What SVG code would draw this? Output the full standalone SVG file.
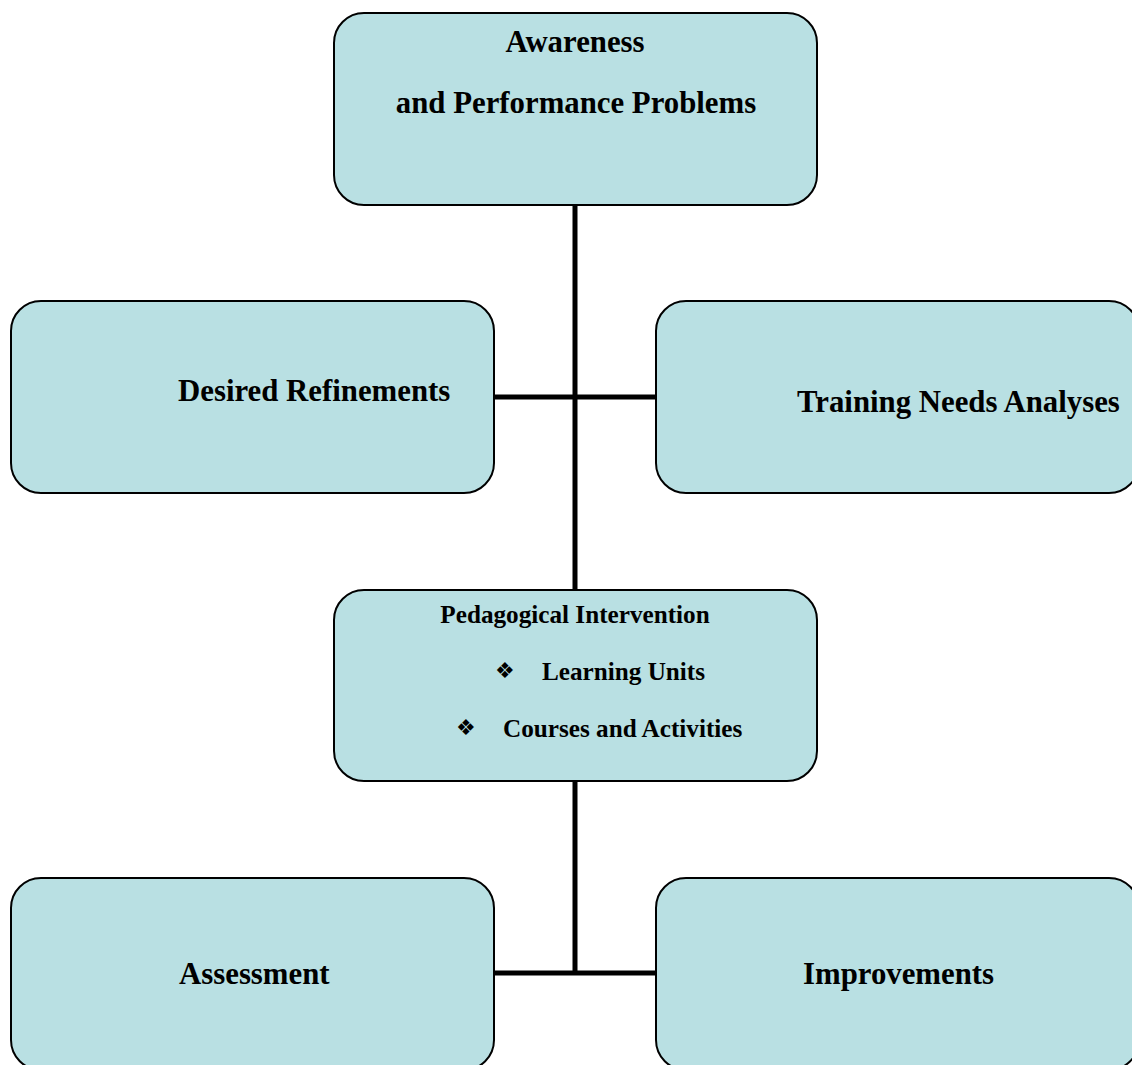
<svg xmlns="http://www.w3.org/2000/svg" width="1132" height="1065" viewBox="0 0 1132 1065">
  <style>
    .box { fill: #b9e0e3; stroke: #000; stroke-width: 2; }
    .lbl { font-family: "Liberation Serif", "Times New Roman", serif; font-weight: bold; fill: #000; }
    .big { font-size: 30.8px; }
    .small { font-size: 25.2px; }
    .bullet { font-family: "DejaVu Sans", sans-serif; font-size: 22px; fill: #000; }
    .wire { stroke: #000; stroke-width: 5; fill: none; }
  </style>
  <rect width="1132" height="1065" fill="#fff"/>

  <!-- connectors -->
  <g id="connectors">
    <line class="wire" x1="575" y1="205" x2="575" y2="590"/>
    <line class="wire" x1="494" y1="397" x2="656" y2="397"/>
    <line class="wire" x1="575" y1="781" x2="575" y2="973"/>
    <line class="wire" x1="494" y1="973" x2="656" y2="973"/>
  </g>

  <g id="awareness">
    <rect class="box" x="334" y="13" width="483" height="192" rx="30"/>
    <text class="lbl big" x="575" y="52" text-anchor="middle">Awareness</text>
    <text class="lbl big" x="576" y="113" text-anchor="middle">and Performance Problems</text>
  </g>

  <g id="desired-refinements">
    <rect class="box" x="11" y="301" width="483" height="192" rx="30"/>
    <text class="lbl big" x="178" y="401">Desired Refinements</text>
  </g>

  <g id="training-needs">
    <rect class="box" x="656" y="301" width="483" height="192" rx="30"/>
    <text class="lbl big" x="797" y="412">Training Needs Analyses</text>
  </g>

  <g id="pedagogical-intervention">
    <rect class="box" x="334" y="590" width="483" height="191" rx="30"/>
    <text class="lbl small" x="575" y="623" text-anchor="middle">Pedagogical Intervention</text>
    <text class="bullet" x="495" y="678">❖</text>
    <text class="lbl small" x="542" y="680">Learning Units</text>
    <text class="bullet" x="456" y="735">❖</text>
    <text class="lbl small" x="503" y="737">Courses and Activities</text>
  </g>

  <g id="assessment">
    <rect class="box" x="11" y="878" width="483" height="192" rx="30"/>
    <text class="lbl big" x="179" y="984">Assessment</text>
  </g>

  <g id="improvements">
    <rect class="box" x="656" y="878" width="483" height="192" rx="30"/>
    <text class="lbl big" x="803" y="984">Improvements</text>
  </g>
</svg>
